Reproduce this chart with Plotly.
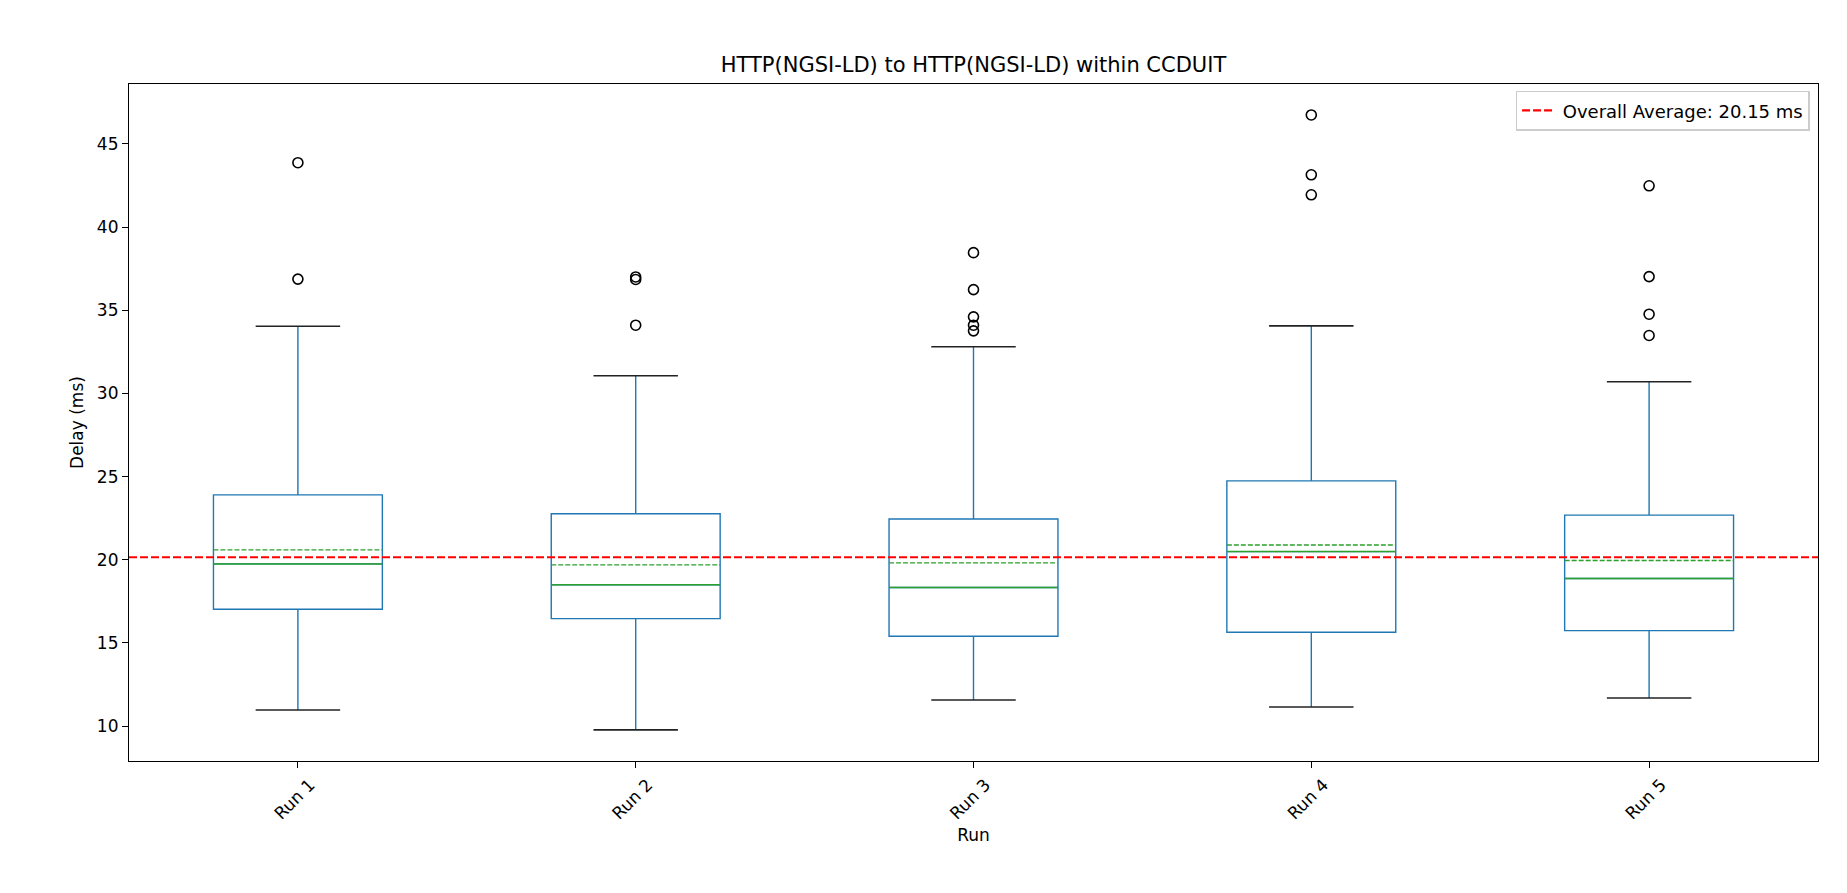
import plotly.graph_objects as go

# ---- data ----
runs = ["Run 1", "Run 2", "Run 3", "Run 4", "Run 5"]
positions = [1, 2, 3, 4, 5]
q1 = [17.02, 16.46, 15.40, 15.64, 15.74]
median = [19.75, 18.49, 18.33, 20.49, 18.87]
mean = [20.59, 19.69, 19.81, 20.89, 19.95]
q3 = [23.90, 22.76, 22.45, 24.74, 22.68]
lower_whisker = [10.97, 9.77, 11.57, 11.15, 11.69]
upper_whisker = [34.04, 31.06, 32.80, 34.06, 30.70]
outliers = [
    [43.87, 36.87],
    [36.85, 37.00, 34.10],
    [38.46, 36.24, 34.60, 34.10, 33.76],
    [46.74, 43.14, 41.94],
    [42.48, 37.02, 34.76, 33.48],
]
overall_average = 20.15

BLUE = "#1f77b4"
GREEN = "#2ca02c"
FONT = "DejaVu Sans"
BOX_W = 0.5

fig = go.Figure()

# boxes + whiskers
for p, a, m, b, lo, hi in zip(positions, q1, median, q3, lower_whisker, upper_whisker):
    fig.add_trace(go.Box(
        x=[p], q1=[a], median=[m], q3=[b], lowerfence=[lo], upperfence=[hi],
        width=BOX_W, whiskerwidth=0, boxpoints=False,
        line=dict(color=BLUE, width=1.4), fillcolor="rgba(0,0,0,0)",
        showlegend=False, hoverinfo="skip",
    ))

# caps
cx, cy = [], []
for p, lo, hi in zip(positions, lower_whisker, upper_whisker):
    for v in (lo, hi):
        cx += [p - BOX_W / 4, p + BOX_W / 4, None]
        cy += [v, v, None]
fig.add_trace(go.Scatter(x=cx, y=cy, mode="lines", line=dict(color="#222222", width=1.6),
                         showlegend=False, hoverinfo="skip"))

# medians
mx, my = [], []
for p, v in zip(positions, median):
    mx += [p - BOX_W / 2, p + BOX_W / 2, None]
    my += [v, v, None]
fig.add_trace(go.Scatter(x=mx, y=my, mode="lines", line=dict(color=GREEN, width=1.5),
                         showlegend=False, hoverinfo="skip"))

# means
ex, ey = [], []
for p, v in zip(positions, mean):
    ex += [p - BOX_W / 2, p + BOX_W / 2, None]
    ey += [v, v, None]
fig.add_trace(go.Scatter(x=ex, y=ey, mode="lines", line=dict(color=GREEN, width=1.4, dash="5px,2px"),
                         showlegend=False, hoverinfo="skip"))

# outliers
ox, oy = [], []
for p, vals in zip(positions, outliers):
    for v in vals:
        ox.append(p)
        oy.append(v)
fig.add_trace(go.Scatter(x=ox, y=oy, mode="markers",
                         marker=dict(symbol="circle-open", size=10, color="black", line=dict(width=1.6)),
                         showlegend=False, hoverinfo="skip"))

# overall average line
fig.add_trace(go.Scatter(x=[0.5, 5.5], y=[overall_average, overall_average], mode="lines",
                         line=dict(color="red", width=2.2, dash="8px,3px"),
                         name=f" Overall Average: {overall_average:.2f} ms"))

W, H = 1831, 877
fig.update_layout(
    width=W, height=H,
    margin=dict(l=121, r=21, t=76, b=124),
    paper_bgcolor="white", plot_bgcolor="white",
    boxmode="overlay",
    font=dict(family=FONT, size=17, color="black"),
    title=dict(text="HTTP(NGSI-LD) to HTTP(NGSI-LD) within CCDUIT", x=0.5, xref="paper",
               y=1 - 57 / H, yref="container", xanchor="center", yanchor="middle",
               font=dict(family=FONT, size=21, color="black")),
    legend=dict(x=0.995, y=0.99, xanchor="right", yanchor="top",
                bgcolor="rgba(255,255,255,0.8)", bordercolor="#cccccc", borderwidth=1.5,
                font=dict(family=FONT, size=18, color="black")),
    showlegend=True,
)

fig.update_xaxes(
    range=[0.5, 5.5], tickmode="array", tickvals=positions, ticktext=runs, tickangle=-45,
    ticklabelshift=12,
    showline=True, linecolor="black", linewidth=1.2, mirror=True,
    ticks="outside", ticklen=6, tickwidth=1.2, tickcolor="black",
    showgrid=False, zeroline=False,
    title=dict(text="Run", standoff=6, font=dict(family=FONT, size=17)),
)
fig.update_yaxes(
    range=[7.9, 48.6], tickmode="array", tickvals=[10, 15, 20, 25, 30, 35, 40, 45],
    showline=True, linecolor="black", linewidth=1.2, mirror=True,
    ticks="outside", ticklen=6, tickwidth=1.2, tickcolor="black",
    showgrid=False, zeroline=False,
    title=dict(text="Delay (ms)", standoff=8, font=dict(family=FONT, size=17)),
)

fig.write_html("out.html")
